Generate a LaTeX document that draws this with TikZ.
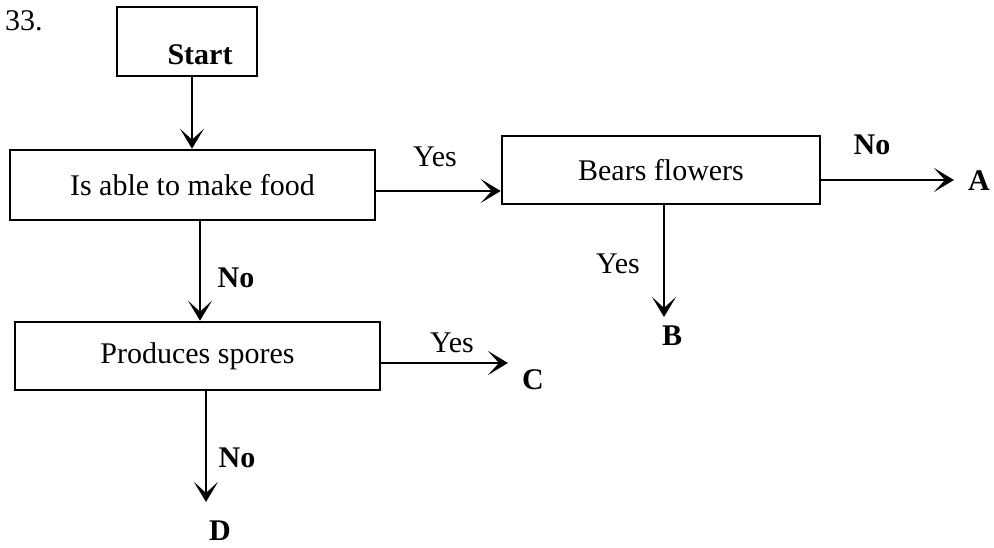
\documentclass[tikz,border=0pt]{standalone}
\usepackage{fontspec}
\setmainfont{Liberation Serif}
\usetikzlibrary{arrows.meta}
\begin{document}
\begin{tikzpicture}[x=1pt,y=-1pt,
  box/.style={draw, line width=2.6pt, inner sep=0pt, font=\fontsize{30}{34}\selectfont},
  lbl/.style={inner sep=0pt, font=\fontsize{30}{34}\selectfont},
  blbl/.style={inner sep=0pt, font=\fontsize{30}{34}\selectfont\bfseries},
  arr/.style={line width=2.6pt, -{Stealth[length=20pt,width=24pt,inset=11pt]}}]
\useasboundingbox (0,0) rectangle (994,548);
\node[lbl] (num) at (24,21) {33.};
\node[box, minimum width=140pt, minimum height=69pt] (start) at (187,41.5) {};
\node[blbl] (starttxt) at (200,55) {Start};
\node[box, minimum width=365pt, minimum height=70pt] (food) at (192.5,185) {Is able to make food};
\node[box, minimum width=318pt, minimum height=68pt] (bears) at (661,170) {Bears flowers};
\node[box, minimum width=365pt, minimum height=68pt] (spores) at (197.5,356) {Produces spores};
\node[blbl] (A) at (979,181) {A};
\node[blbl] (B) at (672,336) {B};
\node[blbl] (C) at (533,380) {C};
\node[blbl] (D) at (220,531) {D};
\node[lbl] (y1) at (435,157) {Yes};
\node[blbl] (n1) at (872,145) {No};
\node[lbl] (y2) at (618,264) {Yes};
\node[blbl] (n2) at (236,278) {No};
\node[lbl] (y3) at (452,343) {Yes};
\node[blbl] (n3) at (237,458) {No};
\draw[arr] ([xshift=5pt]start.south) -- ([xshift=5pt]start.south |- food.north);
\draw[arr] ([yshift=-6pt]food.east) -- ([yshift=-6pt]food.east -| bears.west);
\draw[arr, shorten >=14pt] ([yshift=-10pt]bears.east) -- ([yshift=-10pt]bears.east -| A.west);
\draw[arr, shorten >=9pt] ([xshift=3pt]bears.south) -- ([xshift=3pt]bears.south |- B.north);
\draw[arr] ([xshift=7.5pt]food.south) -- ([xshift=7.5pt]food.south |- spores.north);
\draw[arr, shorten >=14pt] ([yshift=-7pt]spores.east) -- ([yshift=-7pt]spores.east -| C.west);
\draw[arr, shorten >=19pt] ([xshift=8.5pt]spores.south) -- ([xshift=8.5pt]spores.south |- D.north);
\end{tikzpicture}
\end{document}
